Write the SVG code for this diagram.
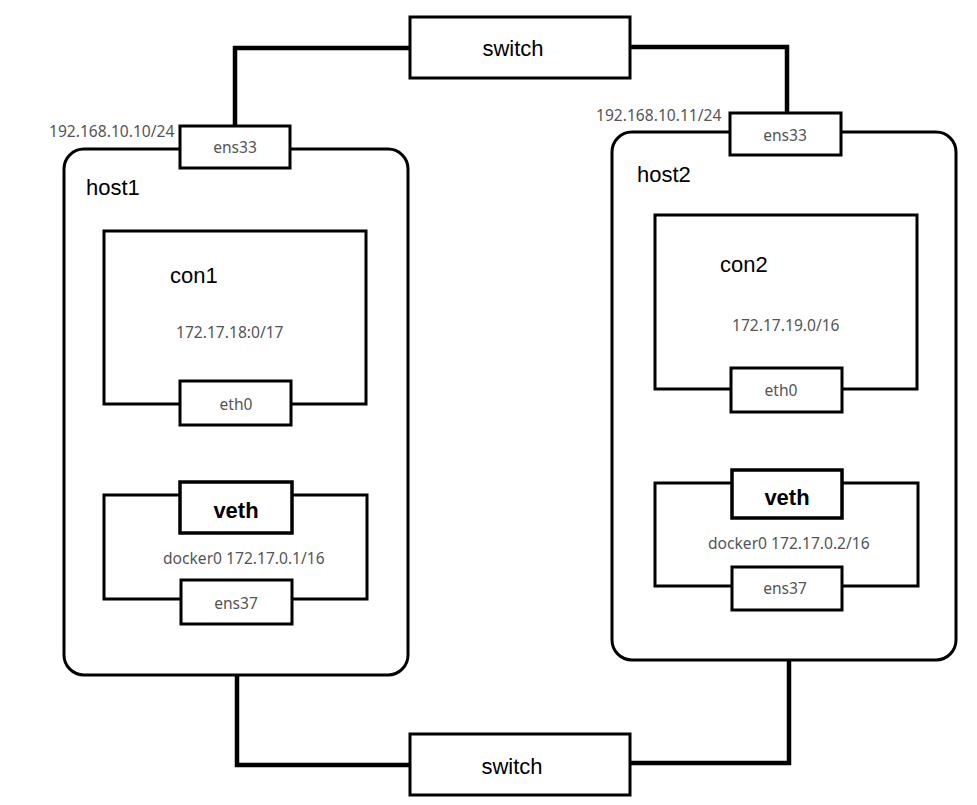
<svg xmlns="http://www.w3.org/2000/svg" width="977" height="805" viewBox="0 0 977 805">
<style>
.bg{fill:#fff}
.box{fill:#fff;stroke:#000;stroke-width:3}
.thick{fill:#fff;stroke:#000;stroke-width:3.5}
.line{fill:none;stroke:#000;stroke-width:4.5;stroke-linejoin:miter}
.big{font-family:"Liberation Sans",Arial,sans-serif;font-size:22px;fill:#000}
.bold{font-family:"Liberation Sans",Arial,sans-serif;font-size:22px;font-weight:bold;fill:#000}
.small{font-family:"Noto Sans","Liberation Sans",sans-serif;font-size:15.6px;fill:#555}
</style>
<rect class="bg" x="0" y="0" width="977" height="805"/>
<g id="connectors">
  <path class="line" d="M235,126 V48 H410"/>
  <path class="line" d="M630,47 H787 V113"/>
  <path class="line" d="M236,425 V482"/>
  <path class="line" d="M787,412 V470"/>
  <path class="line" d="M237,624 V765 H410"/>
  <path class="line" d="M630,763 H789 V610"/>
</g>
<g id="host1">
  <rect class="box" x="64" y="149" width="344" height="526" rx="20"/>
  <text class="big" x="86" y="195">host1</text>
</g>
<g id="host2">
  <rect class="box" x="612" y="132" width="344" height="528" rx="20"/>
  <text class="big" x="637" y="182">host2</text>
</g>
<g id="switch-top">
  <rect class="box" x="410" y="17" width="220" height="61"/>
  <text class="big" x="513" y="56" text-anchor="middle">switch</text>
</g>
<g id="switch-bottom">
  <rect class="box" x="410" y="734" width="220" height="61"/>
  <text class="big" x="512" y="774" text-anchor="middle">switch</text>
</g>
<g id="ens33-host1">
  <rect class="box" x="180" y="126" width="110" height="42"/>
  <text class="small" x="235" y="153" text-anchor="middle">ens33</text>
  <text class="small" x="49" y="137">192.168.10.10/24</text>
</g>
<g id="ens33-host2">
  <rect class="box" x="730" y="113" width="111" height="42"/>
  <text class="small" x="785" y="141" text-anchor="middle">ens33</text>
  <text class="small" x="596" y="121">192.168.10.11/24</text>
</g>
<g id="con1">
  <rect class="box" x="104" y="231" width="262" height="173"/>
  <text class="big" x="170" y="283">con1</text>
  <text class="small" x="176" y="338">172.17.18:0/17</text>
</g>
<g id="con2">
  <rect class="box" x="655" y="215" width="262" height="174"/>
  <text class="big" x="720" y="272">con2</text>
  <text class="small" x="732" y="331">172.17.19.0/16</text>
</g>
<g id="eth0-host1">
  <rect class="box" x="180" y="381" width="111" height="44"/>
  <text class="small" x="236" y="410" text-anchor="middle">eth0</text>
</g>
<g id="eth0-host2">
  <rect class="box" x="731" y="368" width="111" height="44"/>
  <text class="small" x="781" y="396" text-anchor="middle">eth0</text>
</g>
<g id="docker0-host1">
  <rect class="box" x="104" y="495" width="263" height="104"/>
  <text class="small" x="163" y="564">docker0 172.17.0.1/16</text>
</g>
<g id="docker0-host2">
  <rect class="box" x="655" y="483" width="263" height="103"/>
  <text class="small" x="708" y="549">docker0 172.17.0.2/16</text>
</g>
<g id="veth-host1">
  <rect class="thick" x="180" y="482" width="112" height="51"/>
  <text class="bold" x="236" y="518" text-anchor="middle">veth</text>
</g>
<g id="veth-host2">
  <rect class="thick" x="732" y="470" width="110" height="48"/>
  <text class="bold" x="787" y="505" text-anchor="middle">veth</text>
</g>
<g id="ens37-host1">
  <rect class="box" x="181" y="580" width="111" height="44"/>
  <text class="small" x="236" y="609" text-anchor="middle">ens37</text>
</g>
<g id="ens37-host2">
  <rect class="box" x="732" y="567" width="110" height="43"/>
  <text class="small" x="785" y="594" text-anchor="middle">ens37</text>
</g>
</svg>
